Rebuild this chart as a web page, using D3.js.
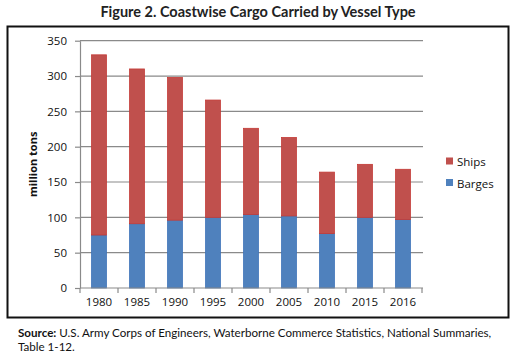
<!DOCTYPE html>
<html>
<head>
<meta charset="utf-8">
<script src="https://cdn.jsdelivr.net/npm/d3@7"></script>
<style>
  body { margin: 0; background: #fff; }
  svg { display: block; }
</style>
</head>
<body>
<svg id="chart" width="517" height="359"></svg>
<script>
// data (million tons)
const years = ["1980", "1985", "1990", "1995", "2000", "2005", "2010", "2015", "2016"];
const barges = [75, 91, 96, 100, 104, 102, 77, 100, 97];
const ships = [255, 219, 202, 166, 122, 111, 87, 75, 71];
const yTicks = [0, 50, 100, 150, 200, 250, 300, 350];

const svg = d3.select("#chart");
const font = "'Open Sans', 'DejaVu Sans', sans-serif";

// title
svg.append("text")
    .attr("x", 258).attr("y", 17)
    .attr("text-anchor", "middle")
    .attr("font-family", "Lato, 'Noto Sans', sans-serif")
    .attr("font-weight", "bold")
    .attr("font-size", 14.5)
    .attr("fill", "#222")
    .text("Figure 2. Coastwise Cargo Carried by Vessel Type");

// frame
svg.append("rect")
    .attr("x", 7.5).attr("y", 26.5)
    .attr("width", 501).attr("height", 291)
    .attr("fill", "none")
    .attr("stroke", "#111")
    .attr("stroke-width", 2);

const plot = { left: 80, right: 422, top: 40.7, bottom: 288 };

const x = d3.scaleBand()
    .domain(years)
    .range([plot.left, plot.right])
    .paddingInner(0.61)
    .paddingOuter(0.305);

const y = d3.scaleLinear()
    .domain([0, 350])
    .range([plot.bottom, plot.top]);

// gridlines
svg.append("g")
    .selectAll("line")
    .data(yTicks.filter(d => d > 0))
    .join("line")
    .attr("x1", plot.left).attr("x2", plot.right + 1)
    .attr("y1", d => y(d)).attr("y2", d => y(d))
    .attr("stroke", "#8a8a8a")
    .attr("stroke-width", 1.2);

// stacked bars
const rows = years.map((yr, i) => ({ year: yr, Barges: barges[i], Ships: ships[i] }));
const stack = d3.stack().keys(["Barges", "Ships"])(rows);
const fills = { Barges: "#4F81BD", Ships: "#C0504D" };
const strokes = { Barges: "#3e73b8", Ships: "#c43a36" };

svg.append("g")
    .selectAll("g")
    .data(stack)
    .join("g")
    .attr("fill", d => fills[d.key])
    .attr("stroke", d => strokes[d.key])
    .attr("stroke-width", 0.8)
    .selectAll("rect")
    .data(d => d)
    .join("rect")
    .attr("x", d => x(d.data.year))
    .attr("width", x.bandwidth())
    .attr("y", d => y(d[1]))
    .attr("height", d => y(d[0]) - y(d[1]));

// y axis
const yAxis = svg.append("g")
    .attr("transform", `translate(${plot.left},0)`)
    .call(d3.axisLeft(y).tickValues(yTicks).tickSize(5).tickSizeOuter(0).tickPadding(8));
yAxis.select(".domain").attr("stroke", "#8a8a8a").attr("stroke-width", 1.2);
yAxis.selectAll(".tick line").attr("stroke", "#8a8a8a").attr("stroke-width", 1.2);
yAxis.selectAll("text")
    .attr("font-family", font)
    .attr("font-size", 11.5)
    .attr("fill", "#111");

// x axis
const xAxis = svg.append("g")
    .attr("transform", `translate(0,${plot.bottom})`)
    .call(d3.axisBottom(x).tickSize(0).tickPadding(10));
xAxis.select(".domain").attr("stroke", "#8a8a8a").attr("stroke-width", 1.2)
    .attr("d", `M${plot.left},0H${plot.right + 1}`);
xAxis.selectAll("text")
    .attr("font-family", font)
    .attr("font-size", 11.5)
    .attr("fill", "#111");

// category boundary ticks
const step = x.step();
svg.append("g")
    .selectAll("line")
    .data(d3.range(years.length + 1))
    .join("line")
    .attr("x1", i => plot.left + i * step).attr("x2", i => plot.left + i * step)
    .attr("y1", plot.bottom).attr("y2", plot.bottom + 5)
    .attr("stroke", "#8a8a8a")
    .attr("stroke-width", 1.2);

// y label
svg.append("text")
    .attr("transform", `translate(37,${(plot.top + plot.bottom) / 2}) rotate(-90)`)
    .attr("text-anchor", "middle")
    .attr("font-family", font)
    .attr("font-weight", "bold")
    .attr("font-size", 11)
    .attr("fill", "#111")
    .text("million tons");

// legend
const legend = svg.append("g")
    .selectAll("g")
    .data(["Ships", "Barges"])
    .join("g")
    .attr("transform", (d, i) => `translate(446,${162 + i * 21.5})`);
legend.append("rect")
    .attr("x", 0).attr("y", -4.5)
    .attr("width", 7).attr("height", 7)
    .attr("fill", d => fills[d]);
legend.append("text")
    .attr("x", 11).attr("y", 0)
    .attr("dy", "0.35em")
    .attr("font-family", font)
    .attr("font-size", 11.5)
    .attr("fill", "#111")
    .text(d => d);

// source note
const note = svg.append("text")
    .attr("font-family", "Lato, 'Noto Sans', sans-serif")
    .attr("font-size", 11.6)
    .attr("fill", "#111");
note.append("tspan").attr("x", 18).attr("y", 337)
    .attr("font-weight", "bold").text("Source:");
note.append("tspan")
    .text(" U.S. Army Corps of Engineers, Waterborne Commerce Statistics, National Summaries,");
note.append("tspan").attr("x", 18).attr("y", 351)
    .text("Table 1-12.");
</script>
</body>
</html>
